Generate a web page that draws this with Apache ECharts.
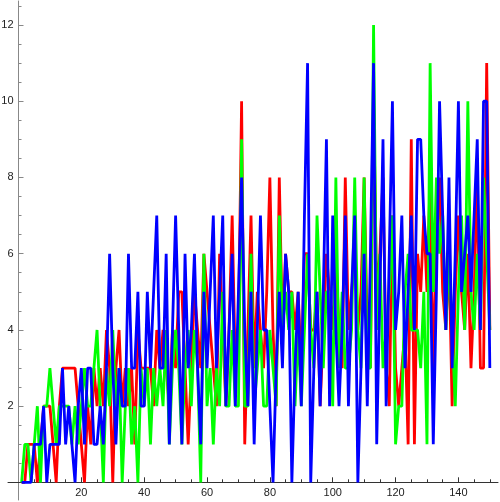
<!DOCTYPE html>
<html>
<head>
<meta charset="utf-8">
<script src="https://cdn.jsdelivr.net/npm/echarts@6/dist/echarts.min.js"></script>
<style>
  html, body { margin: 0; padding: 0; background: #fff; }
  #chart { width: 500px; height: 502px; }
</style>
</head>
<body>
<div id="chart"></div>
<script>
// values for x = 1..150
const redValues = [
  0, 0, 1, 1, 1, 0, 1, 2, 2, 2,
  1, 0, 2, 3, 3, 3, 3, 3, 2, 1,
  0, 2, 1, 3, 2, 3, 2, 4, 3, 0,
  3, 4, 2, 3, 2, 3, 1, 4, 3, 3,
  3, 3, 2, 4, 3, 4, 3, 2, 4, 3,
  5, 5, 3, 1, 3, 5, 4, 3, 6, 5,
  4, 3, 2, 6, 4, 2, 4, 7, 3, 4,
  10, 1, 4, 7, 3, 5, 4, 3, 5, 8,
  4, 2, 8, 4, 6, 5, 5, 4, 5, 3,
  6, 6, 4, 4, 5, 2, 4, 6, 5, 4,
  6, 4, 3, 8, 4, 5, 6, 4, 5, 8,
  4, 3, 10, 5, 6, 8, 3, 2, 7, 3,
  2, 3, 4, 1, 9, 1, 6, 5, 7, 5,
  8, 3, 6, 8, 5, 4, 6, 2, 5, 7,
  5, 4, 6, 3, 5, 8, 3, 3, 11, 4,
];
const greenValues = [
  0, 1, 1, 0, 1, 2, 0, 2, 2, 3,
  2, 1, 2, 2, 2, 2, 1, 2, 1, 2,
  3, 2, 2, 3, 4, 2, 0, 3, 2, 4,
  2, 3, 0, 2, 3, 1, 2, 0, 3, 2,
  3, 1, 3, 2, 3, 2, 4, 1, 3, 4,
  3, 1, 3, 4, 2, 4, 3, 0, 6, 2,
  3, 1, 3, 2, 5, 2, 2, 4, 2, 2,
  9, 2, 2, 6, 2, 3, 4, 2, 2, 4,
  3, 2, 7, 4, 5, 4, 5, 2, 4, 2,
  4, 6, 4, 3, 7, 5, 3, 5, 5, 2,
  8, 3, 5, 3, 3, 4, 8, 4, 3, 8,
  3, 3, 12, 4, 6, 3, 4, 5, 7, 1,
  2, 2, 5, 6, 4, 4, 4, 3, 5, 1,
  11, 5, 8, 6, 7, 4, 6, 4, 2, 5,
  7, 4, 10, 5, 4, 6, 4, 8, 6, 4,
];
const blueValues = [
  0, 0, 0, 0, 1, 1, 1, 2, 0, 1,
  1, 1, 1, 3, 1, 2, 1, 0, 2, 3,
  1, 3, 3, 1, 1, 2, 1, 3, 6, 3,
  1, 3, 2, 2, 6, 3, 3, 5, 2, 2,
  5, 3, 5, 7, 3, 3, 6, 1, 4, 7,
  4, 1, 6, 3, 4, 6, 3, 1, 5, 3,
  5, 7, 3, 5, 7, 2, 4, 6, 2, 5,
  8, 4, 2, 5, 1, 4, 7, 4, 4, 2,
  0, 3, 5, 3, 6, 5, 0, 3, 5, 2,
  7, 11, 0, 3, 5, 2, 5, 9, 2, 7,
  4, 2, 4, 7, 2, 5, 7, 0, 3, 6,
  2, 6, 11, 1, 5, 9, 2, 6, 10, 4,
  5, 7, 3, 5, 7, 4, 9, 9, 7, 6,
  6, 1, 5, 10, 7, 4, 8, 3, 6, 10,
  5, 6, 7, 5, 7, 9, 4, 10, 10, 3,
];

const xMajorTicks = [20, 40, 60, 80, 100, 120, 140];
const xMinorTicks = [5, 10, 15, 25, 30, 35, 45, 50, 55, 65, 70, 75, 85, 90, 95,
  105, 110, 115, 125, 130, 135, 145, 150];
const yMajorTicks = [2, 4, 6, 8, 10, 12];
const yMinorTicks = [0.5, 1, 1.5, 2.5, 3, 3.5, 4.5, 5, 5.5, 6.5, 7, 7.5, 8.5, 9, 9.5,
  10.5, 11, 11.5, 12.5];

const seriesDefs = [
  { name: 'red', color: '#ff0000', values: redValues },
  { name: 'green', color: '#00ff00', values: greenValues },
  { name: 'blue', color: '#0000ff', values: blueValues },
];

const xMin = -3.34;
const xMax = 152.6;
const yMin = -0.46;
const yMax = 12.63;
const axisColorX = '#333';
const axisColorY = '#888';
const labelFont = { color: '#222', fontSize: 11, fontFamily: 'Liberation Sans, Arial, sans-serif' };

// grid 0: whole plot, carries the long axis lines and the series
// grid 1: starts at the origin, carries ticks and labels
function lineAxis(min, max, color) {
  return {
    type: 'value',
    gridIndex: 0,
    min,
    max,
    axisLine: { show: true, onZero: true, lineStyle: { color, width: 1 } },
    axisTick: { show: false },
    axisLabel: { show: false },
    splitLine: { show: false },
  };
}

function tickAxis(max, ticks, len, withLabels, color) {
  return {
    type: 'value',
    gridIndex: 1,
    min: 0,
    max,
    axisLine: { show: false, onZero: false },
    axisTick: { show: true, inside: true, length: len, customValues: ticks,
      lineStyle: { color, width: 1 } },
    axisLabel: { show: withLabels, customValues: ticks, margin: 5, ...labelFont },
    splitLine: { show: false },
  };
}

const chart = echarts.init(document.getElementById('chart'));
chart.setOption({
  animation: false,
  backgroundColor: '#fff',
  grid: [
    { left: 8, right: 2, top: 1, bottom: 2, outerBoundsMode: 'none' },
    { left: 18.5, right: 2, top: 1, bottom: 19.7, outerBoundsMode: 'none' },
  ],
  xAxis: [
    { ...lineAxis(xMin, xMax, axisColorX), position: 'bottom' },
    { ...tickAxis(xMax, xMajorTicks, 5, true, axisColorX), position: 'bottom' },
    { ...tickAxis(xMax, xMinorTicks, 3, false, axisColorX), position: 'bottom' },
  ],
  yAxis: [
    { ...lineAxis(yMin, yMax, axisColorY), position: 'left' },
    { ...tickAxis(yMax, yMajorTicks, 5, true, axisColorY), position: 'left' },
    { ...tickAxis(yMax, yMinorTicks, 3, false, axisColorY), position: 'left' },
  ],
  series: seriesDefs.map((s) => ({
    name: s.name,
    type: 'line',
    xAxisIndex: 0,
    yAxisIndex: 0,
    showSymbol: false,
    symbol: 'none',
    lineStyle: { color: s.color, width: 2.8 },
    itemStyle: { color: s.color },
    data: s.values.map((v, i) => [i + 1, v]),
  })),
});
</script>
</body>
</html>
